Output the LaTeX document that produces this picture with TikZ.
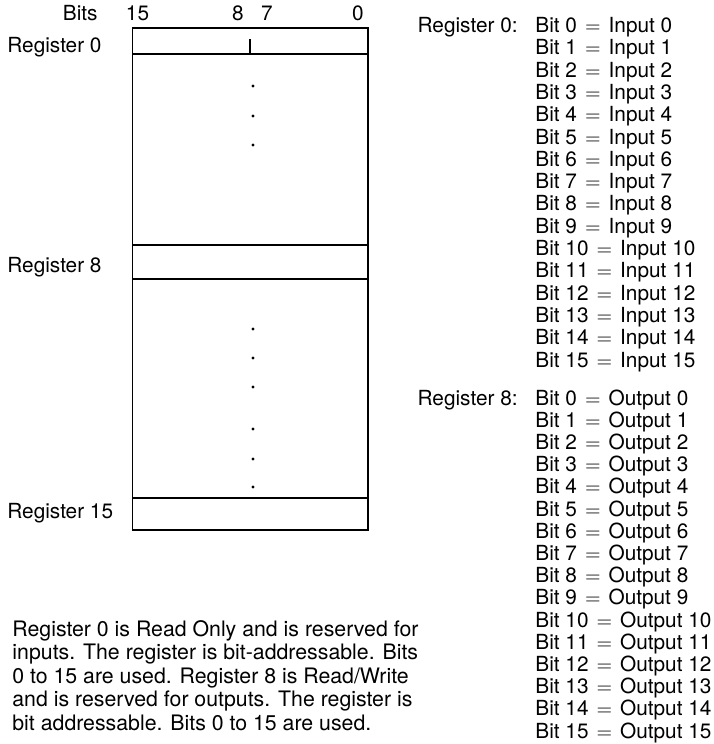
\documentclass[tikz,border=0pt]{standalone}
\usepackage{fontspec}
\setmainfont{TeX Gyre Heros}
\usepackage{tikz}
\newcommand{\eqs}{\hspace{4pt}$=$\hspace{4pt}}

\begin{document}
\begin{tikzpicture}[x=0.5pt,y=-0.5pt,every node/.style={font=\fontsize{10.4}{12}\selectfont,inner sep=0pt}]
\useasboundingbox (0,0) rectangle (713,744);
% register map
\draw[line width=.9pt] (132.5,28) rectangle (368,530);
\draw[line width=.8pt] (132.5,54)--(368,54);
\draw[line width=.8pt] (132.5,245)--(368,245);
\draw[line width=.8pt] (132.5,279)--(368,279);
\draw[line width=.8pt] (132.5,498)--(368,498);
\draw[line width=.9pt] (250,39)--(250,54);
\fill (253,86) circle (1.6);
\fill (253,116) circle (1.6);
\fill (253,145) circle (1.6);
\fill (253,329) circle (1.6);
\fill (253,358) circle (1.6);
\fill (253,387) circle (1.6);
\fill (253,429) circle (1.6);
\fill (253,459) circle (1.6);
\fill (253,487) circle (1.6);
\node[anchor=base east] (bits) at (98,20) {Bits};
\node[anchor=base] (b15) at (137.5,20) {15};
\node[anchor=base] (b8) at (238,20) {8};
\node[anchor=base] (b7) at (267,20) {7};
\node[anchor=base] (b0) at (358,20) {0};
\node[anchor=base west] (reg0) at (7,52) {Register 0};
\node[anchor=base west] (reg8) at (7,272) {Register 8};
\node[anchor=base west] (reg15) at (7,518) {Register 15};
% register 0 bits
\node[anchor=base east] (r0) at (518,32.5) {Register 0:};
\node[anchor=base west] (in0) at (535,32.5) {Bit 0\eqs Input 0};
\node[anchor=base west] (in1) at (535,54.8) {Bit 1\eqs Input 1};
\node[anchor=base west] (in2) at (535,77.1) {Bit 2\eqs Input 2};
\node[anchor=base west] (in3) at (535,99.4) {Bit 3\eqs Input 3};
\node[anchor=base west] (in4) at (535,121.7) {Bit 4\eqs Input 4};
\node[anchor=base west] (in5) at (535,144) {Bit 5\eqs Input 5};
\node[anchor=base west] (in6) at (535,166.3) {Bit 6\eqs Input 6};
\node[anchor=base west] (in7) at (535,188.6) {Bit 7\eqs Input 7};
\node[anchor=base west] (in8) at (535,210.9) {Bit 8\eqs Input 8};
\node[anchor=base west] (in9) at (535,233.2) {Bit 9\eqs Input 9};
\node[anchor=base west] (in10) at (535,255.5) {Bit 10\eqs Input 10};
\node[anchor=base west] (in11) at (535,277.8) {Bit 11\eqs Input 11};
\node[anchor=base west] (in12) at (535,300.1) {Bit 12\eqs Input 12};
\node[anchor=base west] (in13) at (535,322.4) {Bit 13\eqs Input 13};
\node[anchor=base west] (in14) at (535,344.7) {Bit 14\eqs Input 14};
\node[anchor=base west] (in15) at (535,367) {Bit 15\eqs Input 15};
% register 8 bits
\node[anchor=base east] (r8) at (518,405) {Register 8:};
\node[anchor=base west] (out0) at (535,405) {Bit 0\eqs Output 0};
\node[anchor=base west] (out1) at (535,427.2) {Bit 1\eqs Output 1};
\node[anchor=base west] (out2) at (535,449.4) {Bit 2\eqs Output 2};
\node[anchor=base west] (out3) at (535,471.6) {Bit 3\eqs Output 3};
\node[anchor=base west] (out4) at (535,493.8) {Bit 4\eqs Output 4};
\node[anchor=base west] (out5) at (535,516) {Bit 5\eqs Output 5};
\node[anchor=base west] (out6) at (535,538.2) {Bit 6\eqs Output 6};
\node[anchor=base west] (out7) at (535,560.4) {Bit 7\eqs Output 7};
\node[anchor=base west] (out8) at (535,582.6) {Bit 8\eqs Output 8};
\node[anchor=base west] (out9) at (535,604.8) {Bit 9\eqs Output 9};
\node[anchor=base west] (out10) at (535,627) {Bit 10\eqs Output 10};
\node[anchor=base west] (out11) at (535,649.2) {Bit 11\eqs Output 11};
\node[anchor=base west] (out12) at (535,671.4) {Bit 12\eqs Output 12};
\node[anchor=base west] (out13) at (535,693.6) {Bit 13\eqs Output 13};
\node[anchor=base west] (out14) at (535,715.8) {Bit 14\eqs Output 14};
\node[anchor=base west] (out15) at (535,738) {Bit 15\eqs Output 15};
% note
\begin{scope}[every node/.append style={font=\fontsize{10.65}{12}\selectfont}]
\node[anchor=base west] (note1) at (12,636) {Register 0 is Read Only and is reserved for};
\node[anchor=base west] (note2) at (12,659.5) {inputs. The register is bit-addressable. Bits};
\node[anchor=base west] (note3) at (12,683) {0 to 15 are used. Register 8 is Read/Write};
\node[anchor=base west] (note4) at (12,706.5) {and is reserved for outputs. The register is};
\node[anchor=base west] (note5) at (12,730) {bit addressable. Bits 0 to 15 are used.};
\end{scope}
\end{tikzpicture}
\end{document}
